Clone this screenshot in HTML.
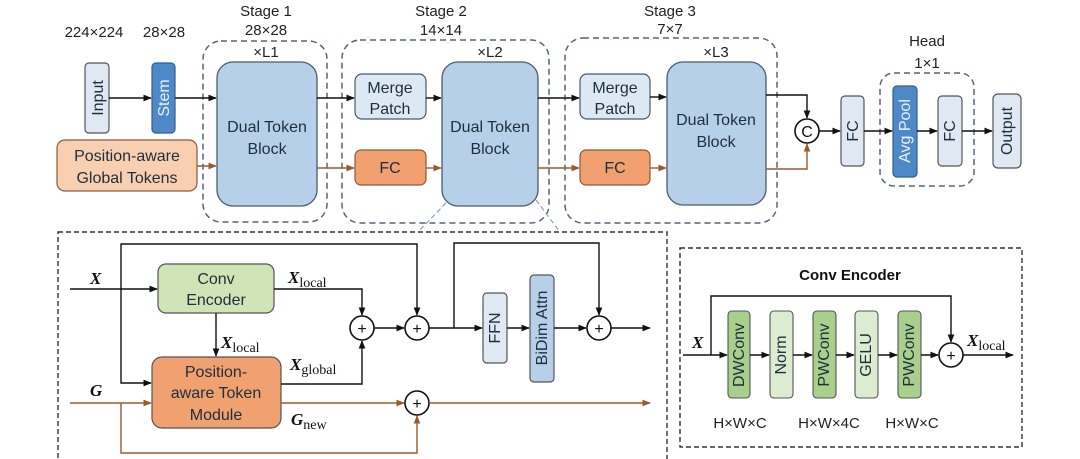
<!DOCTYPE html>
<html><head><meta charset="utf-8"><style>
html,body{margin:0;padding:0;background:#fff;}
svg{display:block;font-family:"Liberation Sans",sans-serif;}
.t{font-size:15px;fill:#222;text-anchor:middle;}
.b{font-size:16px;fill:#1f2d3d;text-anchor:middle;}
.m{font-family:"Liberation Serif",serif;font-weight:bold;font-style:italic;font-size:17px;fill:#111;}
.s{font-family:"Liberation Serif",serif;font-size:14px;fill:#111;font-style:normal;font-weight:normal;}
.k{stroke:#111;stroke-width:1.4;fill:none;}
.o{stroke:#9a5a2e;stroke-width:1.4;fill:none;}
.d{stroke:#55657a;stroke-width:1.5;fill:none;stroke-dasharray:6,4;}
.dk{stroke:#333;stroke-width:1.4;fill:none;stroke-dasharray:5,3;}
.c{fill:#fff;stroke:#111;stroke-width:1.6;}
.p{font-size:16px;fill:#111;text-anchor:middle;}
</style></head><body>
<svg width="1080" height="459" viewBox="0 0 1080 459">
<defs>
<marker id="ak" viewBox="0 0 10 10" refX="9" refY="5" markerWidth="6" markerHeight="6" orient="auto"><path d="M0,1 L10,5 L0,9z" fill="#111"/></marker>
<marker id="ao" viewBox="0 0 10 10" refX="9" refY="5" markerWidth="6" markerHeight="6" orient="auto"><path d="M0,1 L10,5 L0,9z" fill="#9a5a2e"/></marker>
</defs>

<text class="t" x="94" y="37">224×224</text>
<text class="t" x="164" y="37">28×28</text>
<text class="t" x="266" y="16">Stage 1</text>
<text class="t" x="266" y="35">28×28</text>
<text class="t" x="266" y="57">×L1</text>
<text class="t" x="441" y="16">Stage 2</text>
<text class="t" x="441" y="35">14×14</text>
<text class="t" x="490" y="57">×L2</text>
<text class="t" x="670" y="16">Stage 3</text>
<text class="t" x="670" y="34">7×7</text>
<text class="t" x="716" y="57">×L3</text>
<text class="t" x="927" y="46">Head</text>
<text class="t" x="927" y="68">1×1</text>

<rect class="d" x="203" y="41" width="124" height="181" rx="18"/>
<rect class="d" x="342" y="40" width="207" height="183" rx="18"/>
<rect class="d" x="565" y="38" width="212" height="185" rx="18"/>
<rect class="d" x="880" y="73" width="94" height="113" rx="14"/>

<rect x="85" y="63" width="24" height="70" rx="4" fill="#dfe8f3" stroke="#555" stroke-width="1.2"/>
<text class="b" transform="translate(103,98) rotate(-90)" font-size="15">Input</text>
<rect x="152" y="63" width="23" height="70" rx="4" fill="#4f88c6" stroke="#2f5f92" stroke-width="1.2"/>
<text class="b" transform="translate(169,98) rotate(-90)" style="fill:#e9f2fb" font-size="15">Stem</text>
<rect x="57" y="140" width="140" height="51" rx="8" fill="#f8cfb0" stroke="#8a5a3a" stroke-width="1.2"/>
<text class="b" x="127" y="161">Position-aware</text>
<text class="b" x="127" y="183">Global Tokens</text>

<rect x="217" y="62" width="100" height="144" rx="16" fill="#b7d0ea" stroke="#4a5a6e" stroke-width="1.3"/>
<text class="b" x="267" y="132">Dual Token</text>
<text class="b" x="267" y="154">Block</text>
<rect x="355" y="74" width="71" height="45" rx="7" fill="#dce8f4" stroke="#4a5a6e" stroke-width="1.2"/>
<text class="b" x="390" y="93">Merge</text>
<text class="b" x="390" y="114">Patch</text>
<rect x="355" y="150" width="71" height="35" rx="6" fill="#f0a16f" stroke="#8a5a3a" stroke-width="1.2"/>
<text class="b" x="390" y="173">FC</text>
<rect x="442" y="62" width="96" height="144" rx="16" fill="#b7d0ea" stroke="#4a5a6e" stroke-width="1.3"/>
<text class="b" x="490" y="132">Dual Token</text>
<text class="b" x="490" y="154">Block</text>
<rect x="580" y="74" width="70" height="45" rx="7" fill="#dce8f4" stroke="#4a5a6e" stroke-width="1.2"/>
<text class="b" x="615" y="93">Merge</text>
<text class="b" x="615" y="114">Patch</text>
<rect x="580" y="150" width="70" height="35" rx="6" fill="#f0a16f" stroke="#8a5a3a" stroke-width="1.2"/>
<text class="b" x="615" y="173">FC</text>
<rect x="667" y="62" width="99" height="143" rx="16" fill="#b7d0ea" stroke="#4a5a6e" stroke-width="1.3"/>
<text class="b" x="716" y="125">Dual Token</text>
<text class="b" x="716" y="147">Block</text>

<rect x="841" y="96" width="23" height="70" rx="4" fill="#dfe8f3" stroke="#555" stroke-width="1.2"/>
<text class="b" transform="translate(858,131) rotate(-90)" font-size="15">FC</text>
<rect x="893" y="86" width="24" height="91" rx="4" fill="#4f88c6" stroke="#2f5f92" stroke-width="1.2"/>
<text class="b" transform="translate(910,131) rotate(-90)" style="fill:#e9f2fb" font-size="15">Avg Pool</text>
<rect x="938" y="96" width="24" height="70" rx="4" fill="#dfe8f3" stroke="#555" stroke-width="1.2"/>
<text class="b" transform="translate(955,131) rotate(-90)" font-size="15">FC</text>
<rect x="993" y="94" width="28" height="74" rx="5" fill="#dfe8f3" stroke="#555" stroke-width="1.2"/>
<text class="b" transform="translate(1012,131) rotate(-90)" font-size="15">Output</text>

<line class="k" x1="109" y1="98" x2="151" y2="98" marker-end="url(#ak)"/>
<line class="k" x1="175" y1="98" x2="216" y2="98" marker-end="url(#ak)"/>
<line class="o" x1="197" y1="166" x2="216" y2="166" marker-end="url(#ao)"/>
<line class="k" x1="317" y1="98" x2="354" y2="98" marker-end="url(#ak)"/>
<line class="o" x1="317" y1="168" x2="354" y2="168" marker-end="url(#ao)"/>
<line class="k" x1="426" y1="98" x2="441" y2="98" marker-end="url(#ak)"/>
<line class="o" x1="426" y1="168" x2="441" y2="168" marker-end="url(#ao)"/>
<line class="k" x1="538" y1="98" x2="579" y2="98" marker-end="url(#ak)"/>
<line class="o" x1="538" y1="168" x2="579" y2="168" marker-end="url(#ao)"/>
<line class="k" x1="650" y1="97" x2="666" y2="97" marker-end="url(#ak)"/>
<line class="o" x1="650" y1="168" x2="666" y2="168" marker-end="url(#ao)"/>
<polyline class="k" points="766,95 807,95 807,118" marker-end="url(#ak)"/>
<polyline class="o" points="766,169 807,169 807,144" marker-end="url(#ao)"/>
<circle class="c" cx="807" cy="131" r="12"/>
<text class="p" x="807" y="137">C</text>
<line class="k" x1="819" y1="131" x2="840" y2="131" marker-end="url(#ak)"/>
<line class="k" x1="864" y1="131" x2="892" y2="131" marker-end="url(#ak)"/>
<line class="k" x1="917" y1="131" x2="937" y2="131" marker-end="url(#ak)"/>
<line class="k" x1="962" y1="131" x2="992" y2="131" marker-end="url(#ak)"/>

<line x1="446" y1="203" x2="418" y2="232" stroke="#8aa0b8" stroke-width="1.2" stroke-dasharray="5,3"/>
<line x1="536" y1="200" x2="560" y2="232" stroke="#8aa0b8" stroke-width="1.2" stroke-dasharray="5,3"/>

<rect class="dk" x="58" y="232" width="609" height="240"/>
<text class="m" x="90" y="284">X</text>
<line class="k" x1="70" y1="289" x2="157" y2="289" marker-end="url(#ak)"/>
<rect x="158" y="264" width="116" height="49" rx="8" fill="#cfe5b6" stroke="#555" stroke-width="1.2"/>
<text class="b" x="216" y="284">Conv</text>
<text class="b" x="216" y="305">Encoder</text>
<text class="m" x="288" y="283">X<tspan class="s" dy="4">local</tspan></text>
<polyline class="k" points="274,289 362,289 362,315" marker-end="url(#ak)"/>
<line class="k" x1="216" y1="313" x2="216" y2="356" marker-end="url(#ak)"/>
<text class="m" x="221" y="348">X<tspan class="s" dy="4">local</tspan></text>
<polyline class="k" points="121,289 121,244 417,244 417,315" marker-end="url(#ak)"/>
<polyline class="k" points="121,289 121,383 151,383" marker-end="url(#ak)"/>
<rect x="152" y="357" width="129" height="71" rx="10" fill="#f0a16f" stroke="#555" stroke-width="1.2"/>
<text class="b" x="216" y="377">Position-</text>
<text class="b" x="216" y="398">aware Token</text>
<text class="b" x="216" y="420">Module</text>
<text class="m" x="290" y="370">X<tspan class="s" dy="4">global</tspan></text>
<polyline class="k" points="281,384 362,384 362,341" marker-end="url(#ak)"/>
<circle class="c" cx="362" cy="328" r="12"/>
<text class="p" x="362" y="334">+</text>
<line class="k" x1="374" y1="328" x2="404" y2="328" marker-end="url(#ak)"/>
<circle class="c" cx="417" cy="328" r="12"/>
<text class="p" x="417" y="334">+</text>
<line class="k" x1="429" y1="328" x2="482" y2="328" marker-end="url(#ak)"/>
<polyline class="k" points="454,328 454,243 599,243 599,315" marker-end="url(#ak)"/>
<rect x="483" y="293" width="24" height="70" rx="4" fill="#dfe8f3" stroke="#555" stroke-width="1.2"/>
<text class="b" transform="translate(500,328) rotate(-90)" font-size="15">FFN</text>
<line class="k" x1="507" y1="328" x2="529" y2="328" marker-end="url(#ak)"/>
<rect x="530" y="275" width="24" height="107" rx="4" fill="#b7d0ea" stroke="#555" stroke-width="1.2"/>
<text class="b" transform="translate(547,328) rotate(-90)" font-size="15">BiDim Attn</text>
<line class="k" x1="554" y1="328" x2="586" y2="328" marker-end="url(#ak)"/>
<circle class="c" cx="599" cy="328" r="12"/>
<text class="p" x="599" y="334">+</text>
<line class="k" x1="611" y1="328" x2="650" y2="328" marker-end="url(#ak)"/>

<text class="m" x="90" y="396">G</text>
<line class="o" x1="70" y1="403" x2="151" y2="403" marker-end="url(#ao)"/>
<text class="m" x="291" y="425">G<tspan class="s" dy="4">new</tspan></text>
<line class="o" x1="281" y1="403" x2="404" y2="403" marker-end="url(#ao)"/>
<polyline class="o" points="121,403 121,453 417,453 417,416" marker-end="url(#ao)"/>
<circle class="c" cx="417" cy="403" r="12"/>
<text class="p" x="417" y="409">+</text>
<line class="o" x1="429" y1="403" x2="650" y2="403" marker-end="url(#ao)"/>

<rect class="dk" x="680" y="248" width="342" height="199"/>
<text x="850" y="280" text-anchor="middle" font-size="15" font-weight="bold" fill="#111">Conv Encoder</text>
<text class="m" x="692" y="348">X</text>
<line class="k" x1="683" y1="355" x2="727" y2="355" marker-end="url(#ak)"/>
<polyline class="k" points="711,355 711,296 951,296 951,342" marker-end="url(#ak)"/>
<rect x="728" y="311" width="22" height="87" rx="4" fill="#a9cf8c" stroke="#555" stroke-width="1.1"/>
<text class="b" transform="translate(744,355) rotate(-90)" font-size="14">DWConv</text>
<line class="k" x1="750" y1="355" x2="769" y2="355" marker-end="url(#ak)"/>
<rect x="770" y="311" width="23" height="87" rx="4" fill="#dcecd0" stroke="#555" stroke-width="1.1"/>
<text class="b" transform="translate(786,355) rotate(-90)" font-size="14">Norm</text>
<line class="k" x1="793" y1="355" x2="812" y2="355" marker-end="url(#ak)"/>
<rect x="813" y="311" width="23" height="87" rx="4" fill="#a9cf8c" stroke="#555" stroke-width="1.1"/>
<text class="b" transform="translate(829,355) rotate(-90)" font-size="14">PWConv</text>
<line class="k" x1="836" y1="355" x2="854" y2="355" marker-end="url(#ak)"/>
<rect x="855" y="311" width="23" height="87" rx="4" fill="#dcecd0" stroke="#555" stroke-width="1.1"/>
<text class="b" transform="translate(871,355) rotate(-90)" font-size="14">GELU</text>
<line class="k" x1="878" y1="355" x2="897" y2="355" marker-end="url(#ak)"/>
<rect x="898" y="311" width="23" height="87" rx="4" fill="#a9cf8c" stroke="#555" stroke-width="1.1"/>
<text class="b" transform="translate(914,355) rotate(-90)" font-size="14">PWConv</text>
<line class="k" x1="921" y1="355" x2="938" y2="355" marker-end="url(#ak)"/>
<circle class="c" cx="951" cy="355" r="12"/>
<text class="p" x="951" y="361">+</text>
<line class="k" x1="963" y1="355" x2="1013" y2="355" marker-end="url(#ak)"/>
<text class="m" x="967" y="346">X<tspan class="s" dy="4">local</tspan></text>
<text class="t" x="740" y="428">H×W×C</text>
<text class="t" x="829" y="428">H×W×4C</text>
<text class="t" x="912" y="428">H×W×C</text>
</svg>
</body></html>
